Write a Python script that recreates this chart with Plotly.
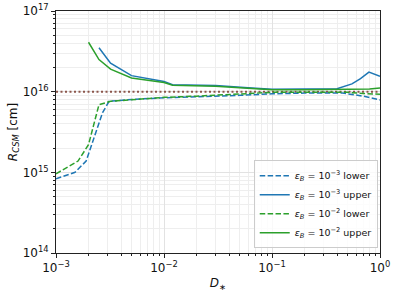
import plotly.graph_objects as go

# eps_B = 1e-3 lower
d_b_low = [0.001, 0.0015, 0.0019, 0.0027, 0.0031, 0.005, 0.01, 0.02, 0.05, 0.1, 0.2, 0.45, 0.7, 1.0]
r_b_low = [8.3e14, 1.0e15, 1.38e15, 5.5e15, 7.6e15, 8.0e15, 8.4e15, 8.6e15, 9.0e15, 9.4e15, 9.6e15, 9.6e15, 8.8e15, 7.9e15]
# eps_B = 1e-3 upper
d_b_up = [0.0025, 0.0032, 0.005, 0.01, 0.012, 0.03, 0.06, 0.1, 0.2, 0.4, 0.55, 0.66, 0.79, 1.0]
r_b_up = [3.5e16, 2.26e16, 1.58e16, 1.34e16, 1.22e16, 1.19e16, 1.12e16, 1.07e16, 1.08e16, 1.09e16, 1.25e16, 1.45e16, 1.75e16, 1.55e16]
# eps_B = 1e-2 lower
d_g_low = [0.001, 0.0016, 0.002, 0.0025, 0.0032, 0.005, 0.01, 0.02, 0.05, 0.1, 0.2, 0.5, 0.7, 1.0]
r_g_low = [9.6e14, 1.38e15, 2.2e15, 6.9e15, 7.6e15, 8.0e15, 8.5e15, 8.8e15, 9.4e15, 9.8e15, 9.8e15, 9.8e15, 9.5e15, 9.3e15]
# eps_B = 1e-2 upper
d_g_up = [0.002, 0.0025, 0.0032, 0.005, 0.01, 0.012, 0.03, 0.06, 0.1, 0.2, 0.5, 0.8, 1.0]
r_g_up = [4.1e16, 2.5e16, 1.9e16, 1.48e16, 1.30e16, 1.2e16, 1.17e16, 1.1e16, 1.06e16, 1.06e16, 1.06e16, 1.08e16, 1.11e16]

ref_x = [0.001, 1.0]
ref_level = [1e16, 1e16]

x_tickvals = [1e-3, 1e-2, 1e-1, 1e0]
x_ticktext = ["10<sup>−3</sup>", "10<sup>−2</sup>", "10<sup>−1</sup>", "10<sup>0</sup>"]
y_tickvals = [1e14, 1e15, 1e16, 1e17]
y_ticktext = ["10<sup>14</sup>", "10<sup>15</sup>", "10<sup>16</sup>", "10<sup>17</sup>"]

x_minor = [m * 10.0 ** e for e in (-3, -2, -1) for m in range(2, 10)]
y_minor = [m * 10.0 ** e for e in (14, 15, 16) for m in range(2, 10)]

BLUE = "#1f77b4"
GREEN = "#2ca02c"
BROWN = "#8c564b"
DASH = "5.5px,2.4px"

fig = go.Figure()
fig.add_trace(go.Scatter(x=ref_x, y=ref_level, mode="lines", showlegend=False,
                         line=dict(color=BROWN, width=2, dash="2px,2.5px")))
fig.add_trace(go.Scatter(x=d_b_low, y=r_b_low, mode="lines",
                         name="<i>ε</i><sub><i>B</i></sub> = 10<sup>−3</sup> lower",
                         line=dict(color=BLUE, width=1.5, dash=DASH)))
fig.add_trace(go.Scatter(x=d_b_up, y=r_b_up, mode="lines",
                         name="<i>ε</i><sub><i>B</i></sub> = 10<sup>−3</sup> upper",
                         line=dict(color=BLUE, width=1.5)))
fig.add_trace(go.Scatter(x=d_g_low, y=r_g_low, mode="lines",
                         name="<i>ε</i><sub><i>B</i></sub> = 10<sup>−2</sup> lower",
                         line=dict(color=GREEN, width=1.5, dash=DASH)))
fig.add_trace(go.Scatter(x=d_g_up, y=r_g_up, mode="lines",
                         name="<i>ε</i><sub><i>B</i></sub> = 10<sup>−2</sup> upper",
                         line=dict(color=GREEN, width=1.5)))

axis_common = dict(
    type="log", showline=True, linecolor="#222", linewidth=1, mirror=True,
    ticks="outside", ticklen=4, tickcolor="#222", tickwidth=1,
    showgrid=True, gridcolor="#e2e2e2", gridwidth=1, zeroline=False, automargin=False,
    tickfont=dict(family="DejaVu Sans", size=12, color="#111"),
)

fig.update_xaxes(**axis_common, range=[-3, 0], tickvals=x_tickvals, ticktext=x_ticktext,
                 minor=dict(tickvals=x_minor, ticks="outside", ticklen=2, tickcolor="#222",
                            showgrid=True, gridcolor="#eeeeee", gridwidth=1),
                 title=dict(text="<i>D</i><sub>∗</sub>", font=dict(family="DejaVu Sans", size=12, color="#111"), standoff=4))
fig.update_yaxes(**axis_common, range=[14, 17], tickvals=y_tickvals, ticktext=y_ticktext,
                 minor=dict(tickvals=y_minor, ticks="outside", ticklen=2, tickcolor="#222",
                            showgrid=True, gridcolor="#eeeeee", gridwidth=1),
                 title=dict(text="<i>R</i><sub><i>CSM</i></sub> [cm]", font=dict(family="DejaVu Sans", size=12, color="#111"), standoff=2))

fig.update_layout(
    width=397, height=294,
    margin=dict(l=56, r=17, t=11, b=41),
    plot_bgcolor="white", paper_bgcolor="white",
    font=dict(family="DejaVu Sans", size=11, color="#111"),
    legend=dict(x=0.993, y=0.02, xanchor="right", yanchor="bottom",
                bgcolor="rgba(255,255,255,0.8)", bordercolor="#cccccc", borderwidth=1,
                font=dict(size=9.5), tracegroupgap=0, itemwidth=30),
)

fig.write_html("out.html", config={"displayModeBar": False},
               post_script="document.body.style.margin='0';")
